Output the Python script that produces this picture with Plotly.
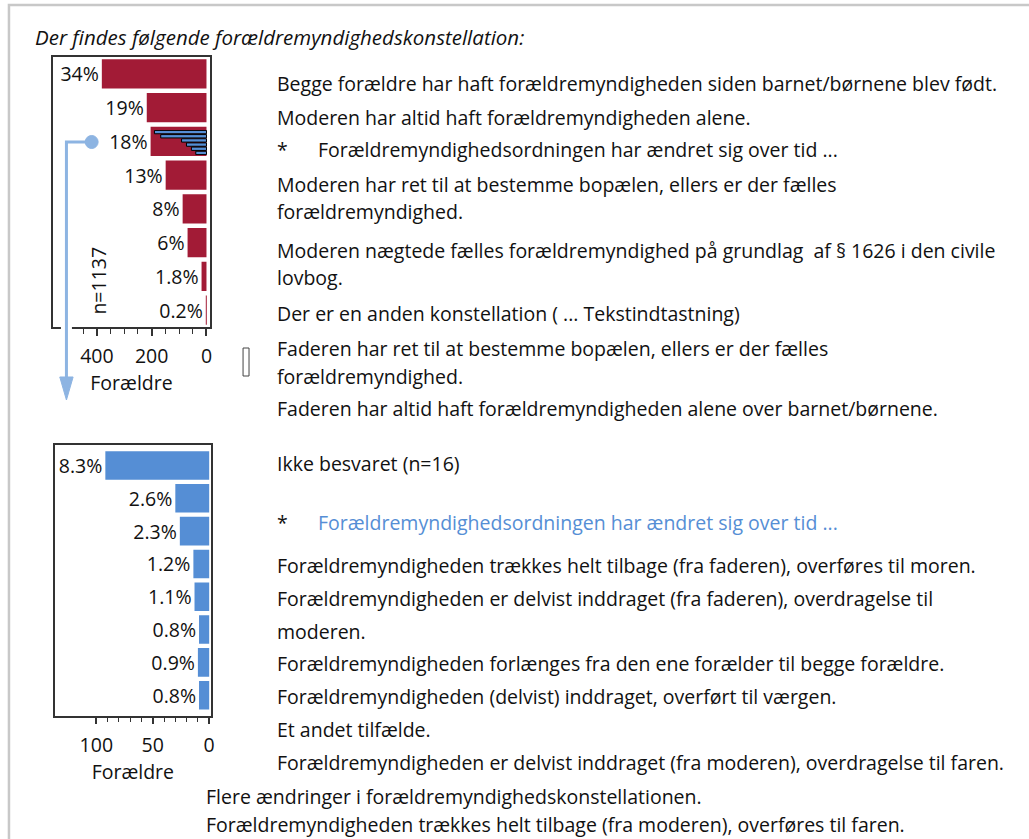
import plotly.graph_objects as go

W, H = 1029, 839


def px(x):
    return x / W


def py(y):
    return 1 - y / H


FONT = "Open Sans"
BLACK = "#111111"
RED = "#A21B36"
BLUE = "#558ED5"
LIGHTBLUE = "#8DB4E2"

# ---------------- data ----------------
title_text = "Der findes følgende forældremyndighedskonstellation:"
n_text = "n=1137"
axis_title = "Forældre"

top_labels = ["34%", "19%", "18%", "13%", "8%", "6%", "1.8%", "0.2%"]
top_counts = [382, 218, 204, 149, 87, 69, 18, 2]
top_ticks = [0, 200, 400]
top_minor_ticks = [50, 100, 150, 200, 250, 300, 350, 400, 450]

bottom_labels = ["8.3%", "2.6%", "2.3%", "1.2%", "1.1%", "0.8%", "0.9%", "0.8%"]
bottom_counts = [92, 30, 26, 14, 13, 9, 10, 9]
bottom_ticks = [0, 50, 100]
bottom_minor_ticks = [10, 20, 30, 40, 50, 60, 70, 80, 90, 100]

icon_counts = [190, 167, 91, 73, 55, 39]

top_items = [
    "Begge forældre har haft forældremyndigheden siden barnet/børnene blev født.",
    "Moderen har altid haft forældremyndigheden alene.",
    "Forældremyndighedsordningen har ændret sig over tid ...",
    "Moderen har ret til at bestemme bopælen, ellers er der fælles",
    "forældremyndighed.",
    "Moderen nægtede fælles forældremyndighed på grundlag  af § 1626 i den civile",
    "lovbog.",
    "Der er en anden konstellation ( ... Tekstindtastning)",
    "Faderen har ret til at bestemme bopælen, ellers er der fælles",
    "forældremyndighed.",
    "Faderen har altid haft forældremyndigheden alene over barnet/børnene.",
    "Ikke besvaret (n=16)",
]
bottom_items = [
    "Forældremyndighedsordningen har ændret sig over tid ...",
    "Forældremyndigheden trækkes helt tilbage (fra faderen), overføres til moren.",
    "Forældremyndigheden er delvist inddraget (fra faderen), overdragelse til",
    "moderen.",
    "Forældremyndigheden forlænges fra den ene forælder til begge forældre.",
    "Forældremyndigheden (delvist) inddraget, overført til værgen.",
    "Et andet tilfælde.",
    "Forældremyndigheden er delvist inddraget (fra moderen), overdragelse til faren.",
    "Flere ændringer i forældremyndighedskonstellationen.",
    "Forældremyndigheden trækkes helt tilbage (fra moderen), overføres til faren.",
]

# ---------------- layout positions (pixels) ----------------
top_item_y = [83, 117, 150, 184, 211, 250, 277, 314, 348, 376, 409, 463]
top_item_x = [276, 276, 317, 276, 276, 276, 276, 276, 276, 276, 276, 276]
bottom_item_y = [522, 565, 598, 631, 663, 696, 729, 762, 796, 824]
bottom_item_x = [317, 276, 276, 276, 276, 276, 276, 276, 205, 205]
bottom_item_color = [BLUE] + [BLACK] * 9

TXT = 19.5
LBL = 19.5

fig = go.Figure()

fig.add_trace(go.Bar(
    x=top_counts, y=list(range(len(top_counts))), orientation="h",
    marker=dict(color=RED, line=dict(width=0)), width=0.86,
    text=top_labels, textposition="outside", cliponaxis=False,
    constraintext="none", textfont=dict(family=FONT, size=LBL, color=BLACK),
    xaxis="x", yaxis="y", showlegend=False, hoverinfo="skip",
))

fig.add_trace(go.Bar(
    x=bottom_counts, y=list(range(len(bottom_counts))), orientation="h",
    marker=dict(color=BLUE, line=dict(width=0)), width=0.87,
    text=bottom_labels, textposition="outside", cliponaxis=False,
    constraintext="none", textfont=dict(family=FONT, size=LBL, color=BLACK),
    xaxis="x2", yaxis="y2", showlegend=False, hoverinfo="skip",
))

fig.add_trace(go.Bar(
    x=icon_counts, y=list(range(len(icon_counts))), orientation="h",
    marker=dict(color=BLUE, line=dict(width=1, color="#000000")), width=0.8,
    xaxis="x", yaxis="y3", showlegend=False, hoverinfo="skip",
))

axis_common = dict(
    showgrid=False, zeroline=False, showline=True, mirror=True,
    linecolor="#333333", linewidth=1.5,
)

fig.update_layout(
    width=W, height=H, margin=dict(l=0, r=0, t=0, b=0),
    paper_bgcolor="white", plot_bgcolor="rgba(0,0,0,0)",
    font=dict(family=FONT, color=BLACK),
    xaxis=dict(
        domain=[px(53), px(211)], range=[561, -13.5], anchor="y",
        tickmode="array", tickvals=top_ticks, ticks="outside", ticklen=7,
        tickwidth=1.5, tickcolor="#333333", tickfont=dict(size=LBL, family=FONT),
        ticklabelstandoff=4,
        minor=dict(tickmode="array", tickvals=top_minor_ticks, ticks="outside",
                   ticklen=5, tickwidth=1.2, tickcolor="#333333"),
        title=dict(text=axis_title, font=dict(size=LBL, family=FONT), standoff=5),
        **axis_common,
    ),
    yaxis=dict(
        domain=[py(327), py(57)], range=[7.5, -0.5], anchor="x",
        showticklabels=False, ticks="", **axis_common,
    ),
    xaxis2=dict(
        domain=[px(55), px(211.7)], range=[136.8, -1.5], anchor="y2",
        tickmode="array", tickvals=bottom_ticks, ticks="outside", ticklen=7,
        tickwidth=1.5, tickcolor="#333333", tickfont=dict(size=LBL, family=FONT),
        ticklabelstandoff=4,
        minor=dict(tickmode="array", tickvals=bottom_minor_ticks, ticks="outside",
                   ticklen=5, tickwidth=1.2, tickcolor="#333333"),
        title=dict(text=axis_title, font=dict(size=LBL, family=FONT), standoff=3),
        **axis_common,
    ),
    yaxis2=dict(
        domain=[py(715.7), py(445)], range=[7.625, -0.625], anchor="x2",
        showticklabels=False, ticks="", **axis_common,
    ),
    yaxis3=dict(
        domain=[py(155), py(130)], range=[5.5, -0.5], anchor="x",
        visible=False,
    ),
    bargap=0.1,
)

annotations = []
annotations.append(dict(
    text=title_text, x=px(33), y=py(37), xref="paper", yref="paper",
    xanchor="left", yanchor="middle", showarrow=False,
    font=dict(family=FONT, size=20.5, color=BLACK, style="italic"),
))
annotations.append(dict(
    text=n_text, x=px(98), y=py(281), xref="paper", yref="paper",
    xanchor="center", yanchor="middle", showarrow=False, textangle=-90,
    font=dict(family=FONT, size=LBL, color=BLACK),
))
for t, x, y in zip(top_items, top_item_x, top_item_y):
    annotations.append(dict(
        text=t, x=px(x), y=py(y), xref="paper", yref="paper",
        xanchor="left", yanchor="middle", showarrow=False,
        font=dict(family=FONT, size=TXT, color=BLACK),
    ))
for t, x, y, c in zip(bottom_items, bottom_item_x, bottom_item_y, bottom_item_color):
    annotations.append(dict(
        text=t, x=px(x), y=py(y), xref="paper", yref="paper",
        xanchor="left", yanchor="middle", showarrow=False,
        font=dict(family=FONT, size=TXT, color=c),
    ))
# asterisks
for y in (150, 522):
    annotations.append(dict(
        text="*", x=px(276), y=py(y), xref="paper", yref="paper",
        xanchor="left", yanchor="middle", showarrow=False,
        font=dict(family=FONT, size=TXT, color=BLACK),
    ))
fig.update_layout(annotations=annotations)


def path(points, close=False):
    s = "M " + " L ".join(f"{px(x):.5f},{py(y):.5f}" for x, y in points)
    return s + (" Z" if close else "")


shapes = [
    # outer frame
    dict(type="rect", xref="paper", yref="paper", x0=px(9), y0=py(5), x1=px(1045),
         y1=py(855), line=dict(color="#C8C8C8", width=2.5), layer="below"),
    # white gap under arrow where it crosses the box
    dict(type="line", xref="paper", yref="paper", x0=px(66.7), y0=py(318), x1=px(66.7),
         y1=py(336), line=dict(color="white", width=11), layer="above"),
    # connector
    dict(type="path", xref="paper", yref="paper",
         path=path([(92, 142), (66.7, 142), (66.7, 382)]),
         line=dict(color=LIGHTBLUE, width=3), layer="above"),
    dict(type="path", xref="paper", yref="paper",
         path=path([(60, 377), (73.4, 377), (66.7, 400)], close=True),
         fillcolor=LIGHTBLUE, line=dict(color=LIGHTBLUE, width=1), layer="above"),
    dict(type="circle", xref="paper", yref="paper", x0=px(85.5), x1=px(98.5),
         y0=py(148.5), y1=py(135.5), fillcolor=LIGHTBLUE,
         line=dict(color=LIGHTBLUE, width=1), layer="above"),
    # small bracket
    dict(type="rect", xref="paper", yref="paper", x0=px(244), x1=px(250),
         y0=py(376), y1=py(348), line=dict(color="#444444", width=1), layer="above"),
]
fig.update_layout(shapes=shapes)

fig.write_html(
    "out.html",
    config={"displayModeBar": False},
    post_script="document.body.style.margin='0';document.body.style.overflow='hidden';",
)
